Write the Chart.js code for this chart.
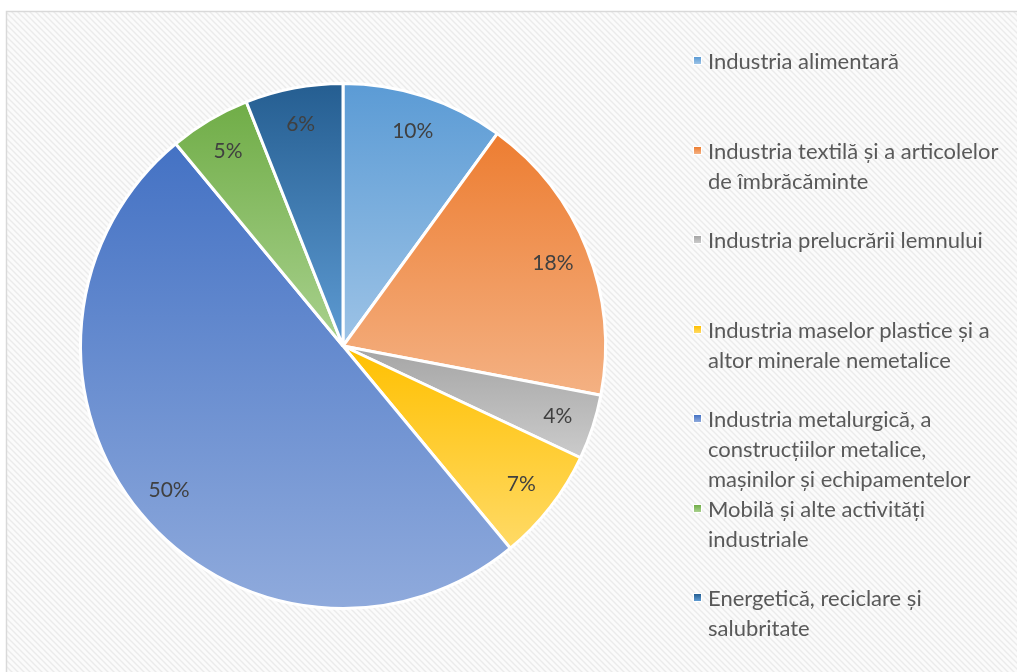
<!DOCTYPE html>
<html>
<head>
<meta charset="utf-8">
<title>Structura industriei</title>
<script src="https://cdn.jsdelivr.net/npm/chart.js"></script>
<style>
  html, body { margin:0; padding:0; background:#fff; }
  .wrap { position:relative; width:1017px; height:672px; overflow:hidden; }
  #pie { position:absolute; left:0; top:0; }
  #legend { position:absolute; left:694px; top:0; font-family:Lato, 'Open Sans', sans-serif; font-size:22px; color:#595959; }
  .item { position:absolute; left:0; white-space:nowrap; line-height:30px; }
  .item .sw { position:absolute; left:0; top:11px; width:7px; height:7px; outline:1px solid #fff; }
  .item .txt { position:absolute; left:14px; top:0; }
</style>
</head>
<body>
<div class="wrap">
  <canvas id="pie" width="1017" height="672"></canvas>
  <div id="legend"></div>
</div>

<script>
// ---------------- Data ----------------
const labels = [
  ["Industria alimentară"],
  ["Industria textilă și a articolelor", "de îmbrăcăminte"],
  ["Industria prelucrării lemnului"],
  ["Industria maselor plastice și a", "altor minerale nemetalice"],
  ["Industria metalurgică, a", "construcțiilor metalice,", "mașinilor și echipamentelor"],
  ["Mobilă și alte activități", "industriale"],
  ["Energetică, reciclare și", "salubritate"]
];
const shares = [10, 18, 4, 7, 50, 5, 6];

// top / bottom of each slice gradient
const topColors = ["#5B9BD5", "#ED7D31", "#A5A5A5", "#FFC000", "#4472C4", "#70AD47", "#255E91"];
const bottomColors = ["#9DC3E6", "#F4B183", "#CBCBCB", "#FFDA66", "#8FAADC", "#A9D18E", "#5E9BD3"];

// ---------------- Helpers ----------------
function sliceGradient(context) {
  const chart = context.chart;
  const area = chart.chartArea;
  const i = context.dataIndex;
  if (!area) return topColors[i];
  const ctrl = chart.getDatasetMeta(0).controller;
  const r = ctrl.outerRadius || Math.min(area.width, area.height) / 2;
  const cy = (area.top + area.bottom) / 2;
  const total = shares.reduce((a, b) => a + b, 0);
  let before = 0;
  for (let k = 0; k < i; k++) before += shares[k];
  const a0 = -Math.PI / 2 + before / total * 2 * Math.PI;
  const a1 = a0 + shares[i] / total * 2 * Math.PI;
  const ys = [cy, cy + r * Math.sin(a0), cy + r * Math.sin(a1)];
  // extreme points inside the arc
  [Math.PI / 2, -Math.PI / 2, 3 * Math.PI / 2].forEach(a => {
    if (a > a0 && a < a1) ys.push(cy + r * Math.sin(a));
  });
  const g = chart.ctx.createLinearGradient(0, Math.min(...ys), 0, Math.max(...ys));
  g.addColorStop(0, topColors[i]);
  g.addColorStop(1, bottomColors[i]);
  return g;
}

function hatchPattern(ctx) {
  const c = document.createElement("canvas");
  c.width = 6; c.height = 6;
  const p = c.getContext("2d");
  p.fillStyle = "#fbfbfb";
  p.fillRect(0, 0, 6, 6);
  p.strokeStyle = "#ebebeb";
  p.lineWidth = 1.4;
  p.beginPath();
  p.moveTo(-1, -1); p.lineTo(7, 7);
  p.moveTo(-4, 2); p.lineTo(2, 8);
  p.moveTo(2, -4); p.lineTo(8, 2);
  p.stroke();
  return ctx.createPattern(c, "repeat");
}

// ---------------- Plugins ----------------
const frameBg = {
  id: "frameBg",
  beforeDraw(chart) {
    const ctx = chart.ctx;
    ctx.save();
    ctx.fillStyle = "#ffffff";
    ctx.fillRect(0, 0, chart.width, chart.height);
    ctx.fillStyle = hatchPattern(ctx);
    ctx.fillRect(6, 11, chart.width, chart.height);
    ctx.strokeStyle = "#d9d9d9";
    ctx.lineWidth = 1.5;
    ctx.beginPath();
    ctx.moveTo(6.5, chart.height);
    ctx.lineTo(6.5, 11.5);
    ctx.lineTo(chart.width, 11.5);
    ctx.stroke();
    ctx.restore();
  }
};

const sliceLabels = {
  id: "sliceLabels",
  afterDatasetsDraw(chart) {
    const ctx = chart.ctx;
    const meta = chart.getDatasetMeta(0);
    ctx.save();
    ctx.font = "21px Lato, 'Open Sans', sans-serif";
    ctx.fillStyle = "#404040";
    ctx.textAlign = "center";
    ctx.textBaseline = "middle";
    meta.data.forEach((arc, i) => {
      const mid = (arc.startAngle + arc.endAngle) / 2;
      const r = arc.outerRadius * 0.86;
      ctx.fillText(shares[i] + "%", arc.x + r * Math.cos(mid), arc.y + r * Math.sin(mid));
    });
    ctx.restore();
  }
};

// ---------------- Chart ----------------
new Chart(document.getElementById("pie"), {
  type: "pie",
  data: {
    labels: labels.map(l => l.join(" ")),
    datasets: [{
      data: shares,
      backgroundColor: sliceGradient,
      borderColor: "#ffffff",
      borderWidth: 3,
      hoverOffset: 0
    }]
  },
  options: {
    responsive: false,
    animation: false,
    layout: { padding: { left: 79, top: 82, right: 410, bottom: 62 } },
    plugins: {
      legend: { display: false },
      tooltip: { enabled: false }
    }
  },
  plugins: [frameBg, sliceLabels]
});

// ---------------- Legend (HTML) ----------------
const legend = document.getElementById("legend");
const firstCenter = 61, step = 89.5;
labels.forEach((lines, i) => {
  const item = document.createElement("div");
  item.className = "item";
  item.style.top = (firstCenter + i * step - 15) + "px";
  item.innerHTML = '<span class="sw" style="background:linear-gradient(' + topColors[i] + ',' + bottomColors[i] + ')"></span>' +
    '<span class="txt">' + lines.join("<br>") + '</span>';
  legend.appendChild(item);
});
</script>
</body>
</html>
